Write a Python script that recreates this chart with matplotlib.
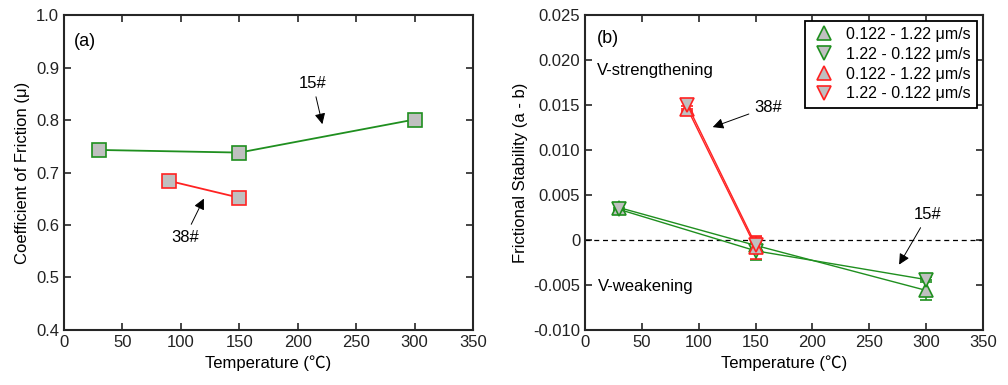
import matplotlib
matplotlib.use("Agg")
import matplotlib.pyplot as plt
from matplotlib.lines import Line2D

plt.rcParams['font.family'] = ['Liberation Sans', 'DejaVu Sans']
plt.rcParams['font.size'] = 12

# panel (a): friction coefficient
temp_15 = [30, 150, 300]
mu_15 = [0.743, 0.738, 0.801]
temp_38 = [90, 150]
mu_38 = [0.684, 0.652]

# panel (b): (a - b)
ab_15_up = [0.0036, -0.0006, -0.0056]
ab_15_up_err = [0.0003, 0.0006, 0.0011]
ab_15_dn = [0.0034, -0.0012, -0.0044]
ab_15_dn_err = [0.0002, 0.0010, 0.0003]
ab_38_up = [0.0146, -0.0008]
ab_38_up_err = [0.0003, 0.0013]
ab_38_dn = [0.0150, -0.0005]
ab_38_dn_err = [0.0004, 0.0008]

labels = ["0.122 - 1.22 μm/s", "1.22 - 0.122 μm/s",
          "0.122 - 1.22 μm/s", "1.22 - 0.122 μm/s"]

green = '#1f8f1f'
red = '#ff2222'
grey = '#c0c0c0'
spine_c = '#262626'
xlab_font = ['Liberation Sans', 'Noto Sans CJK SC', 'DejaVu Sans']

fig = plt.figure(figsize=(10.08, 3.85), dpi=100)
ax1 = fig.add_axes([0.0635, 0.1429, 0.4058, 0.818])
ax2 = fig.add_axes([0.5804, 0.1429, 0.3948, 0.818])

for ax in (ax1, ax2):
    ax.tick_params(direction='in', top=True, right=True, length=5, width=1.2,
                   labelsize=12, colors=spine_c, labelcolor='#222222')
    for s in ax.spines.values():
        s.set_linewidth(1.5)
        s.set_color(spine_c)
    ax.set_xlim(0, 350)
    ax.set_xticks(range(0, 351, 50))
    ax.set_xlabel("Temperature (℃)", family=xlab_font, fontsize=12)

# ---- (a)
ax1.plot(temp_15, mu_15, '-s', color=green, lw=1.3, ms=10, mfc=grey,
         mec=green, mew=1.2)
ax1.plot(temp_38, mu_38, '-s', color=red, lw=1.3, ms=10, mfc=grey,
         mec=red, mew=1.2)
ax1.set_ylim(0.4, 1.0)
ax1.set_yticks([0.4, 0.5, 0.6, 0.7, 0.8, 0.9, 1.0])
ax1.set_yticklabels(['0.4', '0.5', '0.6', '0.7', '0.8', '0.9', '1.0'])
ax1.set_ylabel("Coefficient of Friction (μ)")
ax1.text(0.025, 0.915, "(a)", transform=ax1.transAxes, fontsize=13,
         va='center', ha='left')
arr = dict(arrowstyle='-|>', color='k', lw=0.7, mutation_scale=16)
ax1.annotate("15#", xy=(221.6, 0.787), xytext=(213, 0.869), fontsize=12,
             ha='center', va='center', arrowprops=arr)
ax1.annotate("38#", xy=(120.7, 0.655), xytext=(103.5, 0.577), fontsize=12,
             ha='center', va='center', arrowprops=arr)

# ---- (b)
ax2.axhline(0, color='k', ls='--', lw=0.9, dashes=(4, 3))
ekw = dict(lw=1.0, ms=10, mfc=grey, mew=1.2, capsize=4, elinewidth=1.1)
ax2.errorbar(temp_15, ab_15_up, yerr=ab_15_up_err, fmt='-^', color=green,
             mec=green, **ekw)
ax2.errorbar(temp_15, ab_15_dn, yerr=ab_15_dn_err, fmt='-v', color=green,
             mec=green, **ekw)
ax2.errorbar(temp_38, ab_38_up, yerr=ab_38_up_err, fmt='-^', color=red,
             mec=red, **ekw)
ax2.errorbar(temp_38, ab_38_dn, yerr=ab_38_dn_err, fmt='-v', color=red,
             mec=red, **ekw)
ax2.set_ylim(-0.01, 0.025)
yt = [-0.01, -0.005, 0, 0.005, 0.01, 0.015, 0.02, 0.025]
ax2.set_yticks(yt)
ax2.set_yticklabels(['-0.010', '-0.005', '0', '0.005', '0.010', '0.015',
                     '0.020', '0.025'])
ax2.set_ylabel("Frictional Stability (a - b)")
ax2.text(0.03, 0.925, "(b)", transform=ax2.transAxes, fontsize=13,
         va='center', ha='left')
ax2.text(10.6, 0.0188, "V-strengthening", fontsize=12, va='center', ha='left')
ax2.text(11, -0.0052, "V-weakening", fontsize=12, va='center', ha='left')
ax2.annotate("38#", xy=(110, 0.01244), xytext=(161, 0.01478), fontsize=12,
             ha='center', va='center', arrowprops=arr)
ax2.annotate("15#", xy=(275, -0.0030), xytext=(301.6, 0.00278), fontsize=12,
             ha='center', va='center', arrowprops=arr)

handles = []
for mk, c in [('^', green), ('v', green), ('^', red), ('v', red)]:
    handles.append(Line2D([], [], ls='none', marker=mk, ms=10, mfc=grey,
                          mec=c, mew=1.2))
leg = ax2.legend(handles, labels, loc='upper right', fontsize=11.5,
                 fancybox=False, edgecolor='k', framealpha=1,
                 borderaxespad=0.35, handletextpad=0.6, labelspacing=0.3,
                 borderpad=0.4, handlelength=1.6)
leg.get_frame().set_linewidth(1.3)

fig.savefig("out.png", dpi=100)
